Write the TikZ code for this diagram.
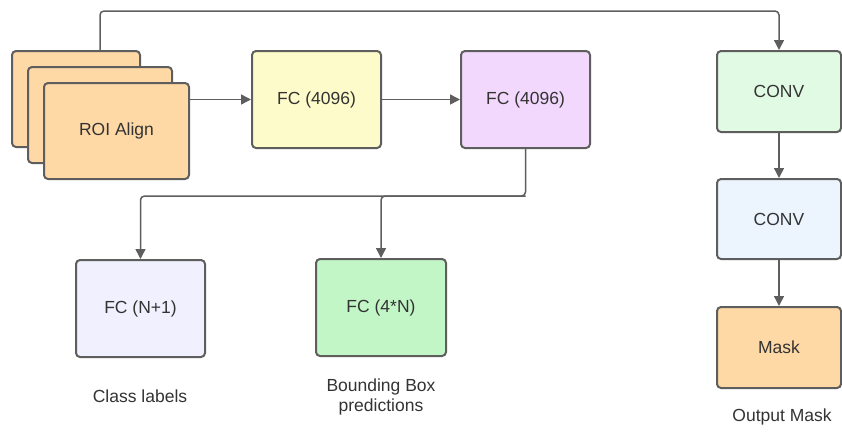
\documentclass[tikz,border=0pt]{standalone}
\usepackage{fontspec}
\setmainfont{Liberation Sans}
\usetikzlibrary{arrows.meta}
\definecolor{edge}{HTML}{5E5E5E}
\definecolor{txt}{HTML}{333333}
\definecolor{peach}{HTML}{FED9A6}
\definecolor{ylw}{HTML}{FEFBCA}
\definecolor{purp}{HTML}{F2D8FD}
\definecolor{lgreen}{HTML}{E1FAE3}
\definecolor{lblue}{HTML}{ECF4FE}
\definecolor{lav}{HTML}{F0F0FE}
\definecolor{mgreen}{HTML}{C3F6C7}
\tikzset{
  blk/.style={draw=edge, line width=2pt, rounded corners=4pt, text=txt,
    font=\fontsize{17.5}{20}\selectfont, inner sep=0pt},
  arr/.style={draw=edge, line width=1.5pt, rounded corners=4pt,
    -{Triangle[length=10pt,width=10pt]}},
  lbl/.style={text=txt, font=\fontsize{17.5}{20}\selectfont, align=center, inner sep=0pt}
}
\begin{document}
\begin{tikzpicture}[x=1pt,y=-1pt]
\fill[white] (0,0) rectangle (842,437);
\useasboundingbox (0,0) rectangle (842,437);
% ROI stack
\node[blk, fill=peach, minimum width=128pt, minimum height=96pt] (roiback) at (76,99) {};
\node[blk, fill=peach, minimum width=144pt, minimum height=96pt] (roimid) at (100,115) {};
\node[blk, fill=peach, minimum width=145pt, minimum height=96pt] (roi) at (116.5,131) {ROI Align};
\node[blk, fill=ylw, minimum width=129pt, minimum height=97pt] (fc1) at (316.5,99.5) {FC (4096)};
\node[blk, fill=purp, minimum width=129pt, minimum height=97pt] (fc2) at (525.5,99.5) {FC (4096)};
\node[blk, fill=lav, minimum width=129pt, minimum height=97pt] (cls) at (140.5,308.5) {FC (N+1)};
\node[blk, fill=mgreen, minimum width=130pt, minimum height=97pt] (bbox) at (381,307.5) {FC (4*N)};
\node[blk, fill=lgreen, minimum width=124pt, minimum height=81pt] (conv1) at (779,91.5) {CONV};
\node[blk, fill=lblue, minimum width=124pt, minimum height=80pt] (conv2) at (779,219) {CONV};
\node[blk, fill=peach, minimum width=124pt, minimum height=81pt] (mask) at (779,347.5) {Mask};
% labels
\node[lbl] (clslbl) at (140,396) {Class labels};
\node[lbl] (bboxlbl) at (381,397) {Bounding Box\\predictions};
\node[lbl] (masklbl) at (782,417) {Output Mask};
% connectors
\coordinate (tstart) at (100,51);
\coordinate (split) at (525.5,196);
\draw[arr] (tstart) -- (100,11) -- (779,11) -- (conv1.north);
\draw[arr] (roi.east |- fc1.west) -- (fc1.west);
\draw[arr] (fc1.east) -- (fc2.west);
\draw[arr] (fc2.south) -- (split) -- (cls.north |- split) -- (cls.north);
\draw[arr] (split) -- (bbox.north |- split) -- (bbox.north);
\draw[arr] (conv1.south) -- (conv2.north);
\draw[arr] (conv2.south) -- (mask.north);
\end{tikzpicture}
\end{document}
